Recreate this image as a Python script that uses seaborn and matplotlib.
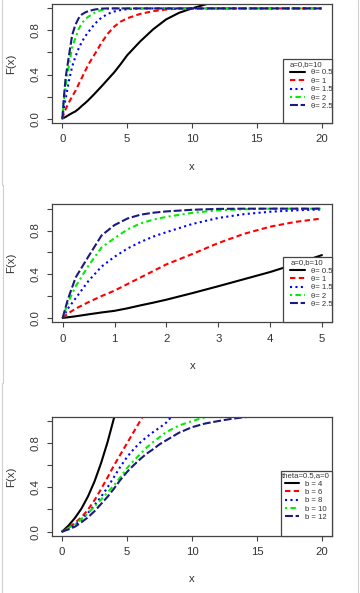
import numpy as np
import matplotlib
matplotlib.use("Agg")
import matplotlib.pyplot as plt
import seaborn as sns
from matplotlib.patches import Rectangle
from matplotlib.lines import Line2D

sns.set_theme(style="white")
plt.rcParams['font.family'] = ['Liberation Sans', 'DejaVu Sans']

nan = np.nan

# ---- data: a=0, b=10, varying theta (panels 1 and 2) ----
x_theta = [0, 0.1, 0.25, 0.5, 0.75, 1, 1.25, 1.5, 1.75, 2, 2.5, 3, 3.5, 4, 4.5, 5,
           6, 7, 8, 9, 10, 11, 12, 15, 20]
F_theta_05 = [0, .006, .015, .033, .05, .065, .088, .115, .14, .167, .227, .29, .355, .42, .495, .575,
              .70, .81, .90, .96, 1.0, 1.035, 1.07, nan, nan]
F_theta_1 = [0, .04, .085, .145, .2, .25, .31, .37, .43, .49, .585, .685, .77, .835, .88, .91,
             .95, .975, .99, .998, 1, 1, 1, 1, 1]
F_theta_15 = [0, .085, .18, .34, .47, .56, .635, .695, .745, .785, .86, .915, .95, .972, .985, .993,
              .999, 1, 1, 1, 1, 1, 1, 1, 1]
F_theta_2 = [0, .14, .29, .48, .645, .73, .81, .865, .9, .925, .962, .985, .995, 1, 1, 1,
             1, 1, 1, 1, 1, 1, 1, 1, 1]
F_theta_25 = [0, .17, .37, .565, .755, .85, .91, .945, .963, .975, .99, .998, 1, 1, 1, 1,
              1, 1, 1, 1, 1, 1, 1, 1, 1]
theta_labels = ["θ= 0.5", "θ= 1", "θ= 1.5", "θ= 2", "θ= 2.5"]
theta_title = "a=0,b=10"

# ---- data: theta=0.5, a=0, varying b (panel 3) ----
x_b = [0, 0.5, 1, 1.5, 2, 2.5, 3, 3.5, 4, 4.5, 5, 5.5, 6, 6.5, 7, 7.5, 8, 8.5, 9,
       10, 11, 12, 13, 14, 15, 16]
F_b4 = [0, .055, .125, .21, .32, .455, .62, .81, 1.03, 1.3, nan, nan, nan, nan, nan, nan, nan, nan, nan,
        nan, nan, nan, nan, nan, nan, nan]
F_b6 = [0, .035, .08, .13, .2, .285, .385, .49, .6, .7, .8, .9, 1.0, 1.1, nan, nan, nan, nan, nan,
        nan, nan, nan, nan, nan, nan, nan]
F_b8 = [0, .025, .06, .11, .17, .24, .315, .4, .495, .59, .675, .745, .805, .855, .9, .94, .985, 1.05, nan,
        nan, nan, nan, nan, nan, nan, nan]
F_b10 = [0, .033, .065, .115, .167, .227, .29, .355, .42, .495, .575, .64, .70, .76, .81, .855, .9, .93, .96,
         1.0, 1.035, 1.07, nan, nan, nan, nan]
F_b12 = [0, .02, .045, .085, .13, .185, .25, .315, .39, .47, .54, .6, .655, .705, .745, .79, .825, .86, .895,
         .945, .978, 1.0, 1.02, 1.035, 1.045, 1.06]
b_labels = ["b = 4", "b = 6", "b = 8", "b = 10", "b = 12"]
b_title = "theta=0.5,a=0"

y_ticks = [0, 0.2, 0.4, 0.6, 0.8, 1.0]
y_ticklabels = ["0.0", "", "0.4", "", "0.8", ""]

# ---- styles ----
colors = ["black", "red", "blue", "#00ee00", "#1a1a80"]
styles = ["-", (0, (2.6, 1.6)), (0, (1.0, 1.6)), (0, (1.0, 1.6, 2.6, 1.6)), (0, (3.8, 1.3))]
LW = 1.5
TXT = "#333333"
BOX = "#444444"
FS = 8.2

W, H = 360, 593
fig = plt.figure(figsize=(W / 100, H / 100), dpi=100)
fig.patch.set_facecolor("white")


def make_axes(l, r, t, b):
    return fig.add_axes([l / W, 1 - b / H, (r - l) / W, (b - t) / H])


def panel(ax, x, series, labels, title, xlim, xticks, leg_rect, leg_anchor, align):
    for y, c, ls, lab in zip(series, colors, styles, labels):
        sns.lineplot(x=np.array(x, float), y=np.array(y, float), ax=ax, color=c,
                     linestyle=ls, lw=LW, label=lab, estimator=None, sort=False)
    ax.set_xlim(*xlim)
    ax.set_ylim(-0.04, 1.04)
    ax.set_xticks(xticks)
    ax.set_xticklabels([str(t) for t in xticks])
    ax.set_yticks(y_ticks)
    ax.set_yticklabels(y_ticklabels)
    for s in ax.spines.values():
        s.set_color(BOX)
        s.set_linewidth(0.9)
    ax.tick_params(axis="both", which="major", direction="out", length=3.6, width=0.8,
                   color=BOX, labelcolor=TXT, labelsize=FS, pad=4.6,
                   bottom=True, left=True)
    ax.tick_params(axis="y", labelrotation=90)
    for t in ax.get_yticklabels():
        t.set_va("center")
    bb = ax.get_position()
    hpx = bb.height * H
    wpx = bb.width * W
    ax.set_xlabel("x", fontsize=FS, color=TXT)
    ax.xaxis.set_label_coords(0.5, -43.5 / hpx)
    ax.xaxis.label.set_va("center")
    ax.set_ylabel("F(x)", fontsize=FS, color=TXT)
    ax.yaxis.set_label_coords(-41 / wpx, 0.5)
    ax.yaxis.label.set_va("center")
    ax.yaxis.label.set_ha("center")
    # legend box (white, over the lines)
    rx, ry = leg_rect
    rect = Rectangle((rx, 0), 1 - rx, ry, transform=ax.transAxes, facecolor="white",
                     edgecolor=BOX, lw=0.9, zorder=5, clip_on=False)
    ax.add_patch(rect)
    handles, labs = ax.get_legend_handles_labels()
    leg = ax.legend(handles, labs, title=title, loc="upper left", bbox_to_anchor=leg_anchor,
                    borderaxespad=0, borderpad=0, frameon=False, fontsize=5.6,
                    title_fontsize=5.6, handlelength=1.9, handletextpad=0.75,
                    labelspacing=0.12, alignment=align)
    leg.set_zorder(6)
    leg.get_title().set_color(TXT)
    for t in leg.get_texts():
        t.set_color(TXT)
        t.set_clip_box(ax.bbox)
        t.set_clip_on(True)


ax1 = make_axes(52, 332, 4, 123)
panel(ax1, x_theta, [F_theta_05, F_theta_1, F_theta_15, F_theta_2, F_theta_25],
      theta_labels, theta_title, (-0.8, 20.8), [0, 5, 10, 15, 20],
      (0.826, 0.535), (0.85, 0.52), "left")

idx5 = [i for i, v in enumerate(x_theta) if v <= 5]
sub = lambda arr: [arr[i] for i in idx5]
ax2 = make_axes(52.3, 332.3, 204.3, 322.3)
panel(ax2, sub(x_theta), [sub(F_theta_05), sub(F_theta_1), sub(F_theta_15), sub(F_theta_2), sub(F_theta_25)],
      theta_labels, theta_title, (-0.2, 5.2), [0, 1, 2, 3, 4, 5],
      (0.825, 0.551), (0.85, 0.535), "left")

ax3 = make_axes(51.7, 332.3, 416.7, 536)
panel(ax3, x_b, [F_b4, F_b6, F_b8, F_b10, F_b12],
      b_labels, b_title, (-0.8, 20.8), [0, 5, 10, 15, 20],
      (0.817, 0.545), (0.82, 0.535), "center")

# faint screenshot borders
for (x, y0, y1) in [(1.7, 0, 185), (2.7, 185, 383), (1.7, 383, 593), (357.5, 0, 593)]:
    fig.add_artist(Line2D([x / W, x / W], [1 - y1 / H, 1 - y0 / H], transform=fig.transFigure,
                          color="#cfcfcf", lw=0.8))

fig.savefig("out.png", dpi=100, facecolor="white")
